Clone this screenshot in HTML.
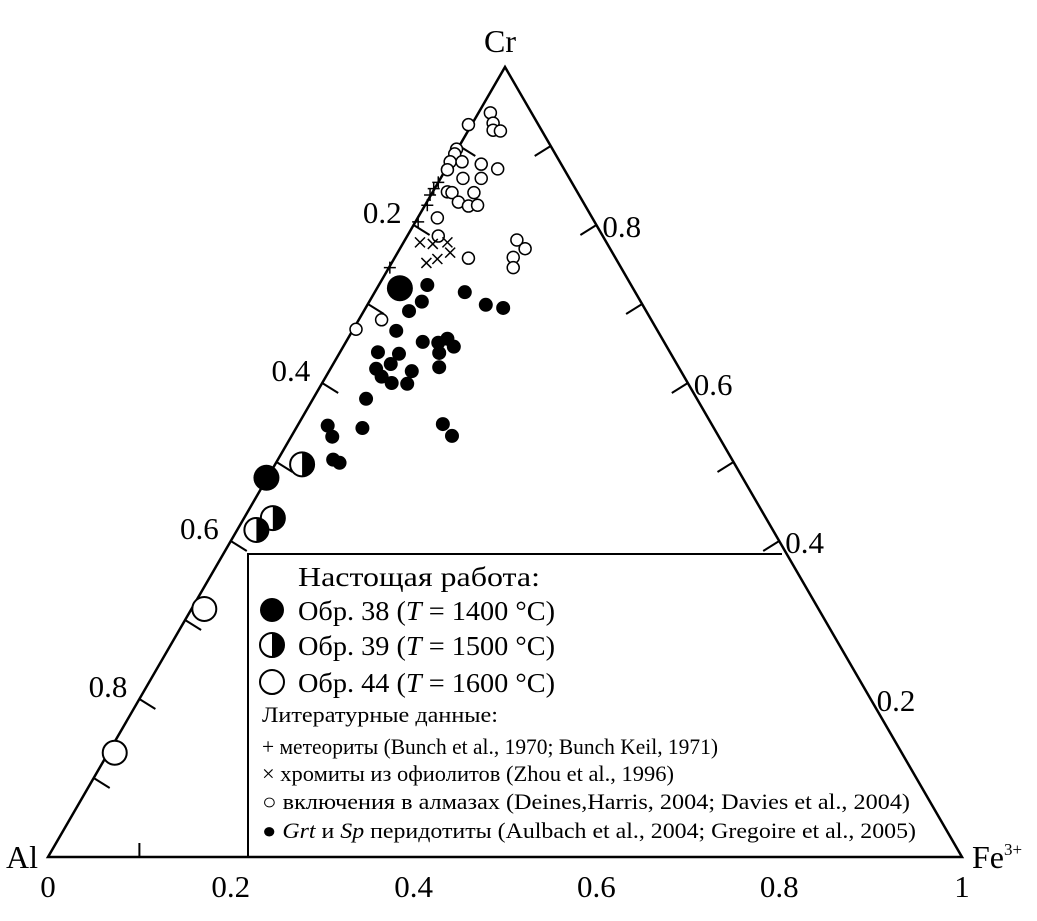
<!DOCTYPE html>
<html><head><meta charset="utf-8"><style>
body{margin:0;background:#fff}
svg{display:block;font-family:"Liberation Serif",serif}
</style></head><body>
<svg id="chart" width="1037" height="921" viewBox="0 0 1037 921" xmlns="http://www.w3.org/2000/svg">
<g id="axes"></g>
<g id="marks"></g>
<g id="legend">
  <polyline points="248,857 248,554 782,554" fill="none" stroke="#000" stroke-width="2"/>
  <text x="298" y="586" font-size="27" textLength="242" lengthAdjust="spacingAndGlyphs">Настощая работа:</text>
  <circle cx="272" cy="610" r="12" fill="#000"/>
  <text x="298" y="620" font-size="27" textLength="257" lengthAdjust="spacingAndGlyphs">Обр. 38 (<tspan font-style="italic">T</tspan> = 1400 °C)</text>
  <g><circle cx="272" cy="645" r="12" fill="#fff" stroke="#000" stroke-width="2"/><path d="M272 633 A12 12 0 0 1 272 657 Z" fill="#000"/></g>
  <text x="298" y="655" font-size="27" textLength="257" lengthAdjust="spacingAndGlyphs">Обр. 39 (<tspan font-style="italic">T</tspan> = 1500 °C)</text>
  <circle cx="272" cy="682" r="12" fill="#fff" stroke="#000" stroke-width="2"/>
  <text x="298" y="692" font-size="27" textLength="257" lengthAdjust="spacingAndGlyphs">Обр. 44 (<tspan font-style="italic">T</tspan> = 1600 °C)</text>
  <text x="262" y="722" font-size="22" textLength="236" lengthAdjust="spacingAndGlyphs">Литературные данные:</text>
  <text x="262" y="754" font-size="22" textLength="456" lengthAdjust="spacingAndGlyphs">+ метеориты (Bunch et al., 1970; Bunch Keil, 1971)</text>
  <text x="262" y="781" font-size="22" textLength="412" lengthAdjust="spacingAndGlyphs">× хромиты из офиолитов (Zhou et al., 1996)</text>
  <text x="262" y="809" font-size="22" textLength="648" lengthAdjust="spacingAndGlyphs">○ включения в алмазах (Deines,Harris, 2004; Davies et al., 2004)</text>
  <text x="262" y="838" font-size="22" textLength="654" lengthAdjust="spacingAndGlyphs">● <tspan font-style="italic">Grt</tspan> и <tspan font-style="italic">Sp</tspan> перидотиты (Aulbach et al., 2004; Gregoire et al., 2005)</text>
</g>
</svg>
<script>
// data: bottom-axis value (x) and Cr fraction
const filledX=[.415,.456,.479,.498,.409,.395,.381,.410,.427,.437,.444,.428,.361,.384,.375,.359,.398,.365,.376,.393,.428,.348,.306,.311,.344,.432,.442,.312,.319];
const filledCr=[.724,.715,.699,.695,.703,.691,.666,.652,.651,.656,.646,.638,.639,.637,.624,.618,.615,.608,.600,.599,.620,.580,.546,.532,.543,.548,.533,.503,.499];
const openX=[.484,.487,.487,.495,.460,.447,.445,.440,.453,.474,.492,.437,.454,.474,.437,.442,.466,.449,.460,.470,.426,.427,.460,.513,.522,.509,.509,.365,.337];
const openCr=[.942,.929,.920,.919,.927,.896,.890,.880,.880,.877,.871,.870,.859,.859,.842,.841,.841,.829,.824,.825,.809,.786,.758,.781,.770,.759,.746,.680,.668];
const plusX=[.427,.422,.418,.415,.405,.374];
const plusCr=[.854,.846,.838,.825,.804,.746];
const crossX=[.407,.421,.437,.440,.414,.426];
const crossCr=[.778,.776,.778,.765,.752,.757];
const s38X=[.385,.239], s38Cr=[.720,.480];
const s39X=[.278,.246,.228], s39Cr=[.497,.429,.414];
const s44X=[.171,.073], s44Cr=[.314,.132];
const bottomTicks=["0","0.2","0.4","0.6","0.8","1"];
const leftLabels=["0.2","0.4","0.6","0.8"];
const rightLabels=["0.8","0.6","0.4","0.2"];

const X0=48,X1=962,Y0=857,H=790;
const px=v=>X0+(X1-X0)*v, py=c=>Y0-H*c;
const NS="http://www.w3.org/2000/svg";
function mk(tag,parent,attrs){const e=document.createElementNS(NS,tag);for(const k in attrs)e.setAttribute(k,attrs[k]);parent.appendChild(e);return e;}
const ax=document.getElementById('axes'), mg=document.getElementById('marks');
let tri=mk('polygon',ax,{points:`${px(0)},${py(0)} ${px(1)},${py(0)} ${px(.5)},${py(1)}`,fill:'none',stroke:'#000','stroke-width':2.5});


for(let i=1;i<10;i++){const c=i/10;
 let l=mk('line',ax,{x1:px(c/2),y1:py(c),x2:px(c/2)+16,y2:py(c)+10,stroke:'#000','stroke-width':2});
 
 
 if(c>0.39){
 let r=mk('line',ax,{x1:px(1-c/2),y1:py(c),x2:px(1-c/2)-16,y2:py(c)+10,stroke:'#000','stroke-width':2});
 
 }
}
let bt=mk('line',ax,{x1:px(.1),y1:Y0,x2:px(.1),y2:Y0-14,stroke:'#000','stroke-width':2});


bottomTicks.forEach((t,i)=>{const e=mk('text',ax,{x:px(i/5),y:897,'font-size':31,'text-anchor':'middle'});e.textContent=t;
 
 });
leftLabels.forEach((t,i)=>{const c=0.8-0.2*i;const e=mk('text',ax,{x:px(c/2)-12,y:py(c)-2,'font-size':31,'text-anchor':'end'});e.textContent=t;
 
 });
rightLabels.forEach((t,i)=>{const c=0.8-0.2*i;const e=mk('text',ax,{x:px(1-c/2)+6,y:py(c)+12,'font-size':31});e.textContent=t;
 
 });
const vl=[["Cr",500,52,'middle','vertex-cr'],["Al",6,868,'start','vertex-al'],["Fe",972,868,'start','vertex-fe']];
vl.forEach(v=>{const e=mk('text',ax,{x:v[1],y:v[2],'font-size':32,'text-anchor':v[3]});e.textContent=v[0];
 if(v[0]==="Fe"){const s=mk('tspan',e,{'font-size':17,dy:-13});s.textContent="3+";}
 
 });
// marks
openX.forEach((v,i)=>{const e=mk('circle',mg,{cx:px(v),cy:py(openCr[i]),r:6,fill:'#fff',stroke:'#000','stroke-width':1.5});
 
 });
filledX.forEach((v,i)=>{const e=mk('circle',mg,{cx:px(v),cy:py(filledCr[i]),r:7,fill:'#000'});
 
 });
plusX.forEach((v,i)=>{const x=px(v),y=py(plusCr[i]);const e=mk('path',mg,{d:`M${x-6} ${y}H${x+6}M${x} ${y-6}V${y+6}`,stroke:'#000','stroke-width':1.5});
 
 });
crossX.forEach((v,i)=>{const x=px(v),y=py(crossCr[i]);const e=mk('path',mg,{d:`M${x-5} ${y-5}L${x+5} ${y+5}M${x+5} ${y-5}L${x-5} ${y+5}`,stroke:'#000','stroke-width':1.5});
 
 });
s38X.forEach((v,i)=>{const e=mk('circle',mg,{cx:px(v),cy:py(s38Cr[i]),r:13,fill:'#000'});
 
 });
s39X.forEach((v,i)=>{const x=px(v),y=py(s39Cr[i]);const g=mk('g',mg,{});
 mk('circle',g,{cx:x,cy:y,r:12,fill:'#fff',stroke:'#000','stroke-width':2});
 mk('path',g,{d:`M${x} ${y-12}A12 12 0 0 1 ${x} ${y+12}Z`,fill:'#000'});
 
 });
s44X.forEach((v,i)=>{const e=mk('circle',mg,{cx:px(v),cy:py(s44Cr[i]),r:12,fill:'#fff',stroke:'#000','stroke-width':2});
 
 });
document.getElementById('chart').appendChild(document.getElementById('legend'));
</script>
</body></html>
